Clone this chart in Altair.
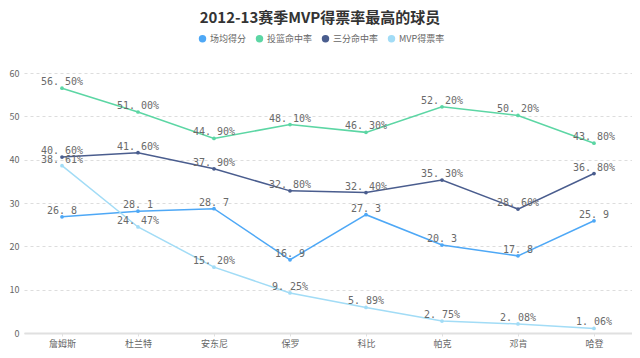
import altair as alt
import pandas as pd

players = ["詹姆斯", "杜兰特", "安东尼", "保罗", "科比", "帕克", "邓肯", "哈登"]
series_names = ["场均得分", "投篮命中率", "三分命中率", "MVP得票率"]
points_avg = [26.8, 28.1, 28.7, 16.9, 27.3, 20.3, 17.8, 25.9]
fg_pct = [56.5, 51.0, 44.9, 48.1, 46.3, 52.2, 50.2, 43.8]
three_pct = [40.6, 41.6, 37.9, 32.8, 32.4, 35.3, 28.6, 36.8]
mvp_pct = [38.61, 24.47, 15.20, 9.25, 5.89, 2.75, 2.08, 1.06]
colors = ["#4ea8f6", "#5cd6a4", "#4a5d8e", "#a2dcf6"]

rows = []
for si, (name, vals) in enumerate(zip(series_names, [points_avg, fg_pct, three_pct, mvp_pct])):
    for p, v in zip(players, vals):
        lab = f"{v:.1f}" if si == 0 else f"{v:.2f}%"
        lab = lab.replace(".", ". ")
        rows.append({"player": p, "series": name, "value": v, "label": lab, "order": si})
df = pd.DataFrame(rows)

x_enc = alt.X("player:N", sort=players, scale=alt.Scale(type="point", padding=0.5),
              axis=alt.Axis(title=None, labelAngle=0, labelFontSize=9, labelColor="#666",
                            labelFont="Noto Sans CJK SC", domainColor="#e0e0e0", domainWidth=2,
                            tickColor="#e0e0e0", tickSize=3, labelPadding=3, grid=False))
y_enc = alt.Y("value:Q", scale=alt.Scale(domain=[0, 60]),
              axis=alt.Axis(title=None, values=[0, 10, 20, 30, 40, 50, 60], labelFontSize=9,
                            labelColor="#666", labelFont="Noto Sans CJK SC", domain=False, ticks=False,
                            labelPadding=5, gridColor="#dddddd", gridDash=[3, 3], gridWidth=1))
cscale = alt.Scale(domain=series_names, range=colors)

pts = alt.Chart(df).mark_circle(size=14, opacity=1).encode(
    x=x_enc, y=y_enc,
    color=alt.Color("series:N", scale=cscale, sort=series_names,
                    legend=alt.Legend(title=None, orient="none", direction="horizontal",
                                      legendX=174, legendY=-39, symbolType="circle", symbolSize=55,
                                      labelFontSize=9, labelColor="#666", labelFont="Noto Sans CJK SC",
                                      columnPadding=8, labelOffset=3, symbolStrokeWidth=0)),
)
lines = alt.Chart(df).mark_line(strokeWidth=1.5).encode(
    x=x_enc, y=y_enc,
    color=alt.Color("series:N", scale=cscale, sort=series_names),
)
texts = alt.Chart(df).mark_text(dy=-6, fontSize=10, font="DejaVu Sans Mono", color="#6a6a6a").encode(
    x=x_enc, y=y_enc, text="label:N"
)

chart = alt.layer(pts, lines, texts).properties(
    width=608, height=260,
    title=alt.TitleParams("2012-13赛季MVP得票率最高的球员", fontSize=15, font="Noto Sans CJK SC",
                          fontWeight="bold", color="#333", anchor="middle", dx=-8, offset=8),
    autosize=alt.AutoSizeParams(type="none"),
    padding={"left": 16, "top": 65, "right": 0, "bottom": 30},
).configure_view(stroke=None)

chart.save("out.html", embed_options={"renderer": "svg", "actions": False})
